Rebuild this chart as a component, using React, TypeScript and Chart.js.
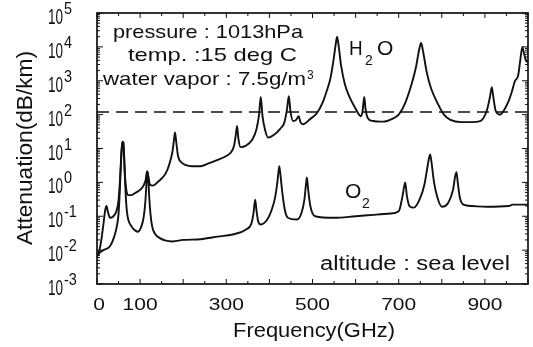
import React, { useEffect, useRef } from "react";
import { Chart, registerables } from "chart.js";

Chart.register(...registerables);

// ---- data ----
const FREQ_H2O = [0, 5, 10, 15, 19, 22, 25, 30, 38, 45, 50, 53, 55, 57, 59, 61, 63, 65, 68, 72, 80, 90, 100, 108, 113, 116, 119, 123, 130, 140, 150, 160, 168, 175, 179, 181, 184, 188, 195, 205, 220, 240, 260, 280, 300, 310, 318, 322, 325, 328, 333, 345, 360, 370, 376, 380, 384, 390, 397, 410, 425, 435, 441, 445, 449, 455, 462, 468, 472, 478, 494, 510, 524, 533, 541, 548, 553, 557, 561, 566, 575, 585, 600, 612, 616, 620, 623, 628, 640, 664, 685, 700, 715, 730, 740, 748, 752, 756, 765, 775, 790, 805, 820, 845, 870, 889, 905, 912, 916, 920, 925, 935, 945, 955, 962, 970, 977, 982, 987, 990, 995, 1000];
const ATT_H2O = [0.0065, 0.009, 0.02, 0.06, 0.15, 0.2, 0.14, 0.09, 0.1, 0.14, 0.3, 1.0, 3, 9, 16, 15, 6, 1.5, 0.6, 0.42, 0.42, 0.5, 0.6, 0.8, 1.2, 2.1, 1.5, 0.85, 0.8, 1.0, 1.3, 1.9, 3.5, 8, 20, 30, 15, 6, 4, 3.3, 3, 3, 3.7, 4.6, 6, 7.5, 12, 25, 46, 20, 11, 12, 18, 37, 100, 330, 90, 35, 21, 25, 38, 60, 150, 350, 120, 65, 70, 90, 60, 52, 73, 110, 235, 500, 1100, 3500, 10000, 20000, 10000, 3000, 800, 350, 150, 90, 120, 330, 150, 80, 65, 62, 75, 100, 220, 800, 2500, 9000, 13000, 8000, 1800, 600, 220, 100, 70, 60, 60, 64, 140, 350, 650, 300, 130, 100, 140, 250, 450, 1000, 1400, 4000, 10000, 7000, 4000, 3500];

const FREQ_O2 = [0, 5, 15, 30, 40, 46, 50, 53, 55, 57, 59, 61, 63, 65, 67, 70, 80, 90, 95, 103, 108, 112, 115, 117, 119, 121, 124, 128, 135, 145, 160, 175, 200, 240, 280, 320, 345, 358, 363, 367, 370, 374, 380, 395, 405, 413, 418, 421, 423, 426, 430, 436, 443, 464, 474, 481, 485, 487, 490, 495, 506, 550, 600, 640, 680, 700, 709, 715, 719, 725, 735, 750, 760, 766, 770, 773, 776, 782, 790, 800, 815, 826, 831, 834, 837, 842, 850, 870, 904, 955, 965, 1000];
const ATT_O2 = [0.0065, 0.008, 0.01, 0.013, 0.025, 0.05, 0.12, 0.6, 2.5, 8, 16, 15, 5, 1.2, 0.35, 0.12, 0.05, 0.037, 0.035, 0.05, 0.09, 0.25, 1.0, 2.1, 1.4, 0.4, 0.12, 0.05, 0.03, 0.023, 0.019, 0.018, 0.02, 0.021, 0.025, 0.03, 0.04, 0.06, 0.12, 0.31, 0.15, 0.07, 0.057, 0.08, 0.15, 0.35, 0.9, 2, 3, 1.5, 0.5, 0.15, 0.09, 0.08, 0.12, 0.3, 0.9, 1.4, 0.6, 0.2, 0.1, 0.09, 0.1, 0.11, 0.12, 0.14, 0.4, 1.0, 0.4, 0.2, 0.18, 0.35, 0.9, 2.5, 5, 6.7, 4, 1, 0.35, 0.19, 0.25, 0.6, 1.5, 2, 1, 0.35, 0.22, 0.2, 0.19, 0.2, 0.22, 0.22];

const REF_LEVEL = 120; // dashed reference line (dB/km)
const X_MIN = 0;
const X_MAX = 1000;
const Y_MIN = 1e-3;
const Y_MAX = 1e5;
const X_TICKS = [0, 100, 300, 500, 700, 900];
const Y_TICK_EXPONENTS = [5, 4, 3, 2, 1, 0, -1, -2, -3];
const X_TITLE = "Frequency(GHz)";
const Y_TITLE = "Attenuation(dB/km)";
const CONDITIONS = ["pressure : 1013hPa", "temp. :15 deg C", "water vapor : 7.5g/m"];
const ALTITUDE = "altitude : sea level";

const FONT = "'Liberation Sans', Arial, sans-serif";

function drawText(
  ctx: CanvasRenderingContext2D,
  text: string,
  x: number,
  y: number,
  size: number,
  sx = 1,
  align: CanvasTextAlign = "left"
) {
  ctx.save();
  ctx.translate(x, y);
  ctx.scale(sx, 1);
  ctx.font = `${size}px ${FONT}`;
  ctx.textAlign = align;
  ctx.textBaseline = "alphabetic";
  ctx.fillStyle = "#111";
  ctx.fillText(text, 0, 0);
  ctx.restore();
}

function measure(ctx: CanvasRenderingContext2D, text: string, size: number) {
  ctx.save();
  ctx.font = `${size}px ${FONT}`;
  const w = ctx.measureText(text).width;
  ctx.restore();
  return w;
}

// draw text stretched to a given width, left edge at x
function drawFit(
  ctx: CanvasRenderingContext2D,
  text: string,
  x: number,
  width: number,
  y: number,
  size: number
) {
  const sx = width / measure(ctx, text, size);
  drawText(ctx, text, x, y, size, sx, "left");
}

const decorPlugin = {
  id: "decor",
  afterDatasetsDraw(chart: any) {
    const ctx: CanvasRenderingContext2D = chart.ctx;
    const { left, right, top, bottom } = chart.chartArea;
    const xs = chart.scales.x;
    const ys = chart.scales.y;
    ctx.save();
    ctx.strokeStyle = "#111";
    // ticks
    ctx.lineWidth = 1;
    ctx.beginPath();
    for (let d = -3; d <= 5; d++) {
      const yy = ys.getPixelForValue(Math.pow(10, d));
      ctx.moveTo(left, yy);
      ctx.lineTo(left + 6, yy);
      ctx.moveTo(right, yy);
      ctx.lineTo(right - 6, yy);
      if (d < 5) {
        for (let k = 2; k <= 9; k++) {
          const ym = ys.getPixelForValue(k * Math.pow(10, d));
          ctx.moveTo(left, ym);
          ctx.lineTo(left + 3, ym);
          ctx.moveTo(right, ym);
          ctx.lineTo(right - 3, ym);
        }
      }
    }
    for (let f = X_MIN; f <= X_MAX; f += 50) {
      const xx = xs.getPixelForValue(f);
      const len = f % 100 === 0 ? 5 : 3;
      ctx.moveTo(xx, bottom);
      ctx.lineTo(xx, bottom - len);
      ctx.moveTo(xx, top);
      ctx.lineTo(xx, top + len);
    }
    ctx.stroke();
    // frame
    ctx.lineWidth = 1.7;
    ctx.strokeRect(left, top, right - left, bottom - top);
    ctx.restore();

    // y tick labels 10^n
    const tenSx = 15 / measure(ctx, "10", 22);
    for (const e of Y_TICK_EXPONENTS) {
      const yy = ys.getPixelForValue(Math.pow(10, e));
      drawText(ctx, "10", 48, yy + 11, 22, tenSx);
      drawText(ctx, String(e), 64, yy + 1, 17, 0.85);
    }
    // x tick labels
    const tickSx = 35 / measure(ctx, "100", 17);
    for (const t of X_TICKS) {
      const xx = xs.getPixelForValue(t);
      drawText(ctx, String(t), t === 0 ? xx + 2 : xx, 310, 17, tickSx, "center");
    }
    // axis titles
    drawFit(ctx, X_TITLE, 233, 162, 337, 21);
    ctx.save();
    ctx.translate(32, 148);
    ctx.rotate(-Math.PI / 2);
    drawFit(ctx, Y_TITLE, -97, 194, 0, 22);
    ctx.restore();

    // condition annotations
    drawFit(ctx, CONDITIONS[0], 113, 190, 38, 19);
    drawFit(ctx, CONDITIONS[1], 128, 169, 61, 19);
    drawFit(ctx, CONDITIONS[2], 103, 203, 85, 19);
    drawText(ctx, "3", 307, 79, 12, 1.0);
    // molecule labels
    drawText(ctx, "H", 349, 55, 21, 0.9);
    drawText(ctx, "2", 365, 65, 14, 1.0);
    drawText(ctx, "O", 377, 55, 21, 1.0);
    drawText(ctx, "O", 345, 198, 21, 1.0);
    drawText(ctx, "2", 362, 208, 14, 1.0);
    drawFit(ctx, ALTITUDE, 320, 190, 270, 20);
  },
};

export default function App() {
  const ref = useRef<HTMLCanvasElement | null>(null);
  useEffect(() => {
    document.body.style.margin = "0";
    if (!ref.current) return;
    const h2o = FREQ_H2O.map((f, i) => ({ x: f, y: ATT_H2O[i] }));
    const o2 = FREQ_O2.map((f, i) => ({ x: f, y: ATT_O2[i] }));
    const refLine = [
      { x: X_MIN, y: REF_LEVEL },
      { x: X_MAX, y: REF_LEVEL },
    ];
    const chart = new Chart(ref.current, {
      type: "line",
      data: {
        datasets: [
          {
            label: "H2O",
            data: h2o,
            borderColor: "#111",
            borderWidth: 1.9,
            pointRadius: 0,
            cubicInterpolationMode: "monotone",
            fill: false,
          },
          {
            label: "O2",
            data: o2,
            borderColor: "#111",
            borderWidth: 1.9,
            pointRadius: 0,
            cubicInterpolationMode: "monotone",
            fill: false,
          },
          {
            label: "ref",
            data: refLine,
            borderColor: "#111",
            borderWidth: 1.5,
            borderDash: [12, 7],
            pointRadius: 0,
            fill: false,
          },
        ],
      },
      options: {
        animation: false,
        responsive: false,
        devicePixelRatio: 1,
        layout: { padding: { left: 0, right: 5, top: 13, bottom: 0 } },
        plugins: { legend: { display: false }, tooltip: { enabled: false } },
        scales: {
          x: {
            type: "linear",
            min: X_MIN,
            max: X_MAX,
            ticks: { display: false },
            grid: { display: false },
            border: { display: false },
            afterFit: (s: any) => {
              s.height = 63;
            },
          },
          y: {
            type: "logarithmic",
            min: Y_MIN,
            max: Y_MAX,
            ticks: { display: false },
            grid: { display: false },
            border: { display: false },
            afterFit: (s: any) => {
              s.width = 97;
            },
          },
        },
      },
      plugins: [decorPlugin],
    } as any);
    return () => chart.destroy();
  }, []);
  return (
    <div style={{ position: "absolute", left: 0, top: 0, width: 533, height: 347, background: "#fff" }}>
      <canvas ref={ref} width={533} height={347} />
    </div>
  );
}
